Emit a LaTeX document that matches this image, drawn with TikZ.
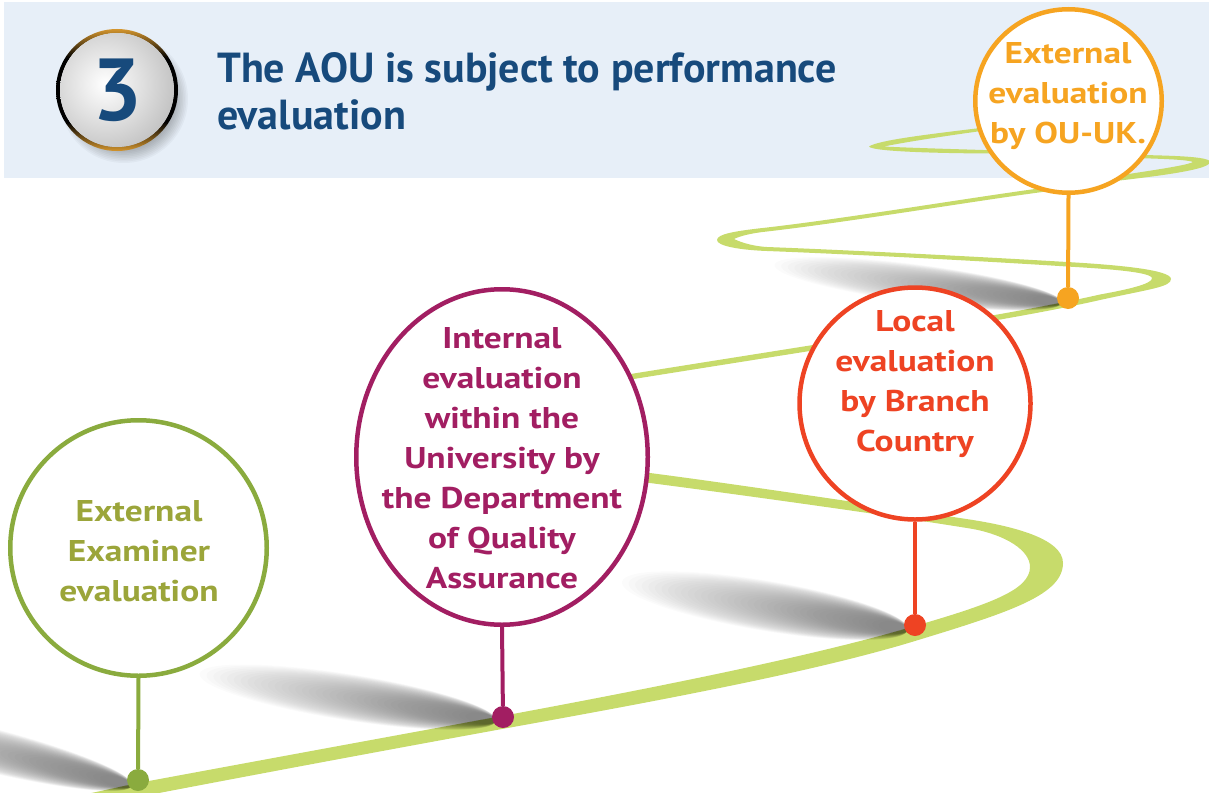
\documentclass[tikz,border=0pt]{standalone}
\usepackage{fontspec}
\setmainfont{PT Sans}
\newfontfamily\ringfont{PT Sans}[FakeStretch=1.18]
\usetikzlibrary{shapes.geometric}

\definecolor{bandblue}{HTML}{E7EFF8}
\definecolor{titleblue}{HTML}{174A7C}
\definecolor{roadgreen}{HTML}{C7DB6B}
\definecolor{ringgreen}{HTML}{8AAB3E}
\definecolor{textgreen}{HTML}{9BA53A}
\definecolor{ringpurple}{HTML}{A21E62}
\definecolor{ringred}{HTML}{EE4323}
\definecolor{ringorange}{HTML}{F6A421}
\definecolor{badgegold}{HTML}{D3952E}

\pgfdeclareverticalshading{badgering}{100bp}{color(0bp)=(badgegold); color(25bp)=(badgegold);
  color(37bp)=(black); color(63bp)=(black); color(75bp)=(badgegold); color(100bp)=(badgegold)}

\tikzset{
  ring/.style={ellipse, draw=#1, fill=white, line width=4.5pt, inner sep=0pt},
  stem/.style={draw=#1, line width=4pt},
  knob/.style={circle, fill=#1, inner sep=0pt, minimum size=22pt},
  ringtext/.style={text=#1, align=center, font=\ringfont\bfseries\fontsize{30}{40}\selectfont},
}

% soft shadow cast to the left of a knob
\newcommand\castshade[4]{%
  \begin{scope}[shift={#1}, rotate=#2]
    \foreach \k in {0,...,39}
      \fill[black, opacity=.016] ({-2-#3*(0.5-\k*0.0115)},0)
        ellipse ({#3*(0.5-\k*0.0115)} and {#4*(1-\k*0.02)});
  \end{scope}}

\begin{document}
\begin{tikzpicture}[x=1pt, y=-1pt]
  \useasboundingbox (0,0) rectangle (1209,792);
  \clip (0,0) rectangle (1209,792);

  % header
  \fill[bandblue] (4,2) rectangle (1209,178);
  \foreach \k in {0,...,9}
    \fill[black, opacity=.03] (124,99) circle ({64-\k*1.6});
  \shade[shading=badgering, even odd rule] (117,90) circle (61) (117,90) circle (57);
  \begin{scope}
    \clip (117,90) circle (57);
    \shade[inner color=white, outer color=black!30] (105,84) circle (90);
  \end{scope}
  \node[text=titleblue, font=\bfseries\fontsize{88}{88}\selectfont] (badgenum) at (117,90) {3};
  \node[anchor=north west, inner sep=0pt, align=left, text=titleblue,
        font=\bfseries\fontsize{42}{47}\selectfont] (headline) at (217,52)
    {The AOU is subject to performance\\evaluation};

  % road
  \fill[roadgreen] (40,818) -- (138,797) .. controls (300,766) and (420,744) .. (502,729)
    .. controls (680,697) and (820,670) .. (915,641) .. controls (1010,612) and (1063,595) .. (1063,563)
    .. controls (1063,538) and (1010,526) .. (973,520) .. controls (900,509) and (750,486) .. (650,473)
    -- (560,462) -- (560,472) -- (650,483) .. controls (750,496) and (900,517) .. (973,529)
    .. controls (1005,535) and (1030,550) .. (1030,567) .. controls (1030,590) and (990,604) .. (915,626)
    .. controls (820,654) and (680,683) .. (502,716) .. controls (420,731) and (300,753) .. (138,783)
    -- (40,804) -- cycle;
  \fill[roadgreen] (560,391) .. controls (760,358) and (1000,323) .. (1100,300)
    .. controls (1150,289) and (1171,287) .. (1171,279) .. controls (1171,270) and (1120,265) .. (1067,262)
    .. controls (950,255) and (820,249) .. (767,247) .. controls (750,246) and (738,241) .. (734,239)
    .. controls (740,236) and (752,233) .. (767,231.5) .. controls (850,222) and (980,200) .. (1050,191)
    -- (1050,187) .. controls (980,196) and (850,218) .. (767,227.5)
    .. controls (735,231) and (717,234) .. (717,240) .. controls (717,246) and (740,250) .. (767,251)
    .. controls (820,253) and (950,259) .. (1067,266.5) .. controls (1110,269) and (1150,272) .. (1152,278)
    .. controls (1153,284) and (1125,290) .. (1100,294.5) .. controls (1000,317.5) and (760,352.5) .. (560,385.5)
    -- cycle;
  \fill[roadgreen] (1090,184) .. controls (1140,178) and (1210,171) .. (1210,162)
    .. controls (1210,155) and (1150,155.5) .. (1100,154) -- (1100,157)
    .. controls (1150,158.5) and (1186,159) .. (1193,162) .. controls (1186,166) and (1140,172) .. (1090,180)
    -- cycle;
  \fill[roadgreen] (1000,150.5) .. controls (950,149) and (900,147.5) .. (884,146.5)
    .. controls (900,143) and (950,135) .. (1000,128.5) -- (1000,125.5)
    .. controls (950,132) and (880,139) .. (869,146.5) .. controls (872,152) and (950,153.5) .. (1000,153.5)
    -- cycle;

  % shadows
  \castshade{(134,786)}{-14}{320}{22}
  \castshade{(498,721)}{-9}{300}{23}
  \castshade{(910,630)}{-9.5}{290}{25}
  \castshade{(1064,303)}{-7.5}{290}{19}

  % balloons
  \node[ring=ringorange, minimum width=186.5pt, minimum height=183.5pt] (ouuk) at (1068.5,101) {};
  \node[ring=ringred, minimum width=231pt, minimum height=232pt] (branch) at (915,403.5) {};
  \node[ring=ringpurple, minimum width=291.5pt, minimum height=335.5pt] (quality) at (502,457) {};
  \node[ring=ringgreen, minimum width=256.5pt, minimum height=255.5pt] (examiner) at (138.5,548) {};

  \node[knob=ringorange] (ouukknob) at (1068,298) {};
  \node[knob=ringred] (branchknob) at (915,625) {};
  \node[knob=ringpurple] (qualityknob) at (503,717) {};
  \node[knob=ringgreen] (examinerknob) at (138,780) {};

  \draw[stem=ringorange] (ouuk.south) -- (ouukknob);
  \draw[stem=ringred] (branch.south) -- (branchknob);
  \draw[stem=ringpurple] (quality.south) -- (qualityknob);
  \draw[stem=ringgreen] (examiner.south) -- (examinerknob);

  \node[ringtext=ringorange] (ouuktext) at (1068,96) {External\\evaluation\\by OU-UK.};
  \node[ringtext=ringred] (branchtext) at (915,384.5) {Local\\evaluation\\by Branch\\Country};
  \node[ringtext=ringpurple] (qualitytext) at (502,458)
    {Internal\\evaluation\\within the\\University by\\the Department\\of Quality\\Assurance};
  \node[ringtext=textgreen] (examinertext) at (139,551.5) {External\\Examiner\\evaluation};
\end{tikzpicture}
\end{document}
